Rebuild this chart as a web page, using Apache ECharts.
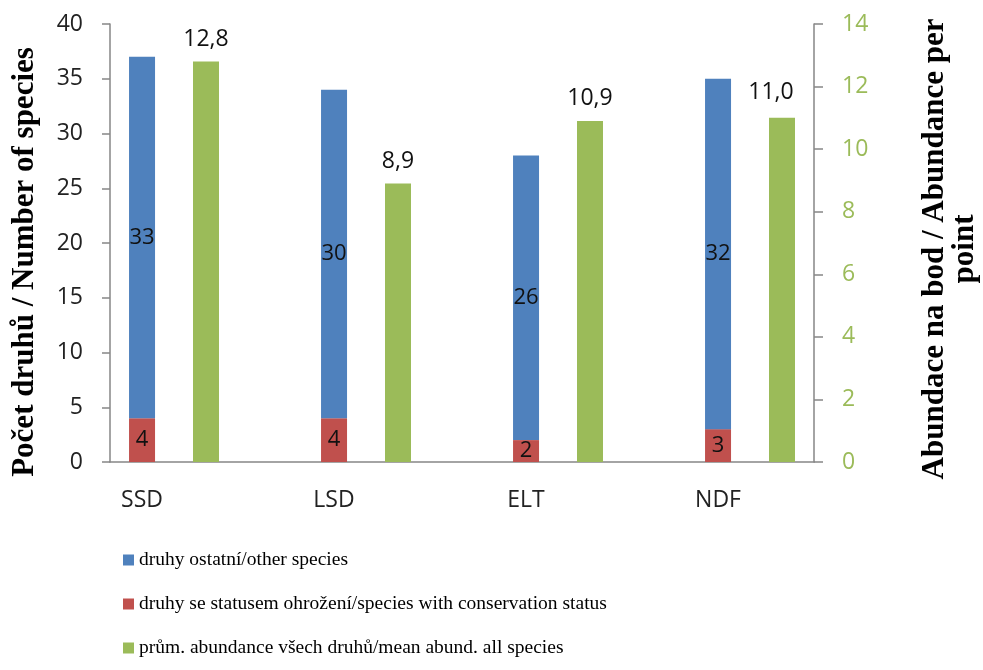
<!DOCTYPE html>
<html>
<head>
<meta charset="utf-8">
<script src="https://cdn.jsdelivr.net/npm/echarts@6/dist/echarts.min.js"></script>
<style>
  html, body { margin: 0; padding: 0; background: #ffffff; }
  #chart { width: 983px; height: 670px; }
</style>
</head>
<body>
<div id="chart"></div>
<script>
// Sites and values
const categories = ['SSD', 'LSD', 'ELT', 'NDF'];
const otherSpecies = [33, 30, 26, 32];
const protectedSpecies = [4, 4, 2, 3];
const meanAbundance = [12.8, 8.9, 10.9, 11.0];

// Axis scales
const speciesAxis = { min: 0, max: 40, interval: 5 };
const abundanceAxis = { min: 0, max: 14, interval: 2 };

// Legend / axis texts
const nameOther = 'druhy ostatní/other species';
const nameProtected = 'druhy se statusem ohrožení/species with conservation status';
const nameAbundance = 'prům. abundance všech druhů/mean abund. all species';
const leftTitle = 'Počet druhů / Number of species';
const rightTitle = 'Abundace na bod / Abundance per\npoint';

const BLUE = '#4F81BD', RED = '#C0504D', GREEN = '#9BBB59';
const AXIS_GREY = '#868686';
const SANS = '"Open Sans", "Noto Sans", sans-serif';
const SERIF = '"Liberation Serif", "DejaVu Serif", serif';

const chart = echarts.init(document.getElementById('chart'), null, { renderer: 'canvas' });

const valueLabel = {
  show: true,
  position: 'inside',
  color: '#111',
  fontFamily: SANS,
  fontSize: 22
};

const option = {
  backgroundColor: '#ffffff',
  animation: false,
  grid: [
    // bars live here: each site gets a slot for the stack, the abundance bar and a gap
    { left: 110, top: 24, width: 768, height: 438, containLabel: false, outerBoundsMode: 'none' },
    // frame of the visible category axis line
    { left: 110, top: 24, width: 704, height: 438, containLabel: false, outerBoundsMode: 'none' }
  ],
  legend: {
    orient: 'vertical',
    left: 123,
    top: 550,
    padding: 0,
    itemWidth: 11,
    itemHeight: 11,
    itemGap: 24,
    icon: 'rect',
    data: [nameOther, nameProtected, nameAbundance],
    textStyle: { fontFamily: SERIF, fontSize: 19.5, color: '#000' }
  },
  xAxis: [
    {
      type: 'category',
      gridIndex: 0,
      data: categories,
      axisLine: { show: false },
      axisTick: { show: false },
      axisLabel: {
        margin: 27,
        fontFamily: SANS,
        fontSize: 23,
        color: '#222',
        // pull each site name under its species stack
        padding: [0, 128, 0, 0]
      },
      splitLine: { show: false }
    },
    {
      type: 'category',
      gridIndex: 1,
      data: categories,
      axisLine: { show: true, lineStyle: { color: AXIS_GREY, width: 1.5 } },
      axisTick: { show: false },
      axisLabel: { show: false },
      splitLine: { show: false }
    }
  ],
  yAxis: [
    {
      type: 'value',
      gridIndex: 0,
      position: 'left',
      min: speciesAxis.min,
      max: speciesAxis.max,
      interval: speciesAxis.interval,
      name: leftTitle,
      nameLocation: 'middle',
      nameGap: 70,
      nameTextStyle: {
        fontFamily: SERIF,
        fontWeight: 'bold',
        fontSize: 31,
        color: '#000',
        padding: [0, 38, 0, 0]
      },
      axisLine: { show: true, lineStyle: { color: AXIS_GREY, width: 1.5 } },
      axisTick: { show: true, inside: false, length: 8, lineStyle: { color: AXIS_GREY, width: 1.5 } },
      axisLabel: { margin: 27, fontFamily: SANS, fontSize: 23, color: '#222' },
      splitLine: { show: false }
    },
    {
      type: 'value',
      gridIndex: 0,
      position: 'right',
      offset: -64,
      min: abundanceAxis.min,
      max: abundanceAxis.max,
      interval: abundanceAxis.interval,
      name: rightTitle,
      nameLocation: 'middle',
      nameRotate: 90,
      nameGap: 106,
      nameTextStyle: {
        fontFamily: SERIF,
        fontWeight: 'bold',
        fontSize: 31,
        lineHeight: 30,
        align: 'center',
        color: '#000',
        padding: [0, 12, 0, 0]
      },
      axisLine: { show: true, lineStyle: { color: AXIS_GREY, width: 1.5 } },
      axisTick: { show: true, inside: false, length: 9, lineStyle: { color: AXIS_GREY, width: 1.5 } },
      axisLabel: { margin: 28, fontFamily: SANS, fontSize: 23, color: GREEN },
      splitLine: { show: false }
    },
    {
      type: 'value',
      gridIndex: 1,
      show: false,
      min: 0,
      max: 1
    }
  ],
  series: [
    {
      name: nameProtected,
      type: 'bar',
      xAxisIndex: 0,
      yAxisIndex: 0,
      stack: 'species',
      barWidth: 26,
      barGap: '146%',
      itemStyle: { color: RED },
      label: valueLabel,
      data: protectedSpecies
    },
    {
      name: nameOther,
      type: 'bar',
      xAxisIndex: 0,
      yAxisIndex: 0,
      stack: 'species',
      barWidth: 26,
      barGap: '146%',
      itemStyle: { color: BLUE },
      label: valueLabel,
      data: otherSpecies
    },
    {
      name: nameAbundance,
      type: 'bar',
      xAxisIndex: 0,
      yAxisIndex: 1,
      barWidth: 26,
      barGap: '146%',
      itemStyle: { color: GREEN },
      label: {
        show: true,
        position: 'top',
        distance: 11,
        color: '#111',
        fontFamily: SANS,
        fontSize: 23,
        formatter: p => p.value.toFixed(1).replace('.', ',')
      },
      data: meanAbundance.map((v, i) =>
        i === meanAbundance.length - 1
          ? { value: v, label: { offset: [-11, -3] } }
          : v)
    },
    {
      // empty slot that keeps the gap between sites
      name: 'gap',
      type: 'bar',
      xAxisIndex: 0,
      yAxisIndex: 0,
      barWidth: 26,
      barGap: '146%',
      silent: true,
      data: categories.map(() => null)
    }
  ]
};

chart.setOption(option);
</script>
</body>
</html>
